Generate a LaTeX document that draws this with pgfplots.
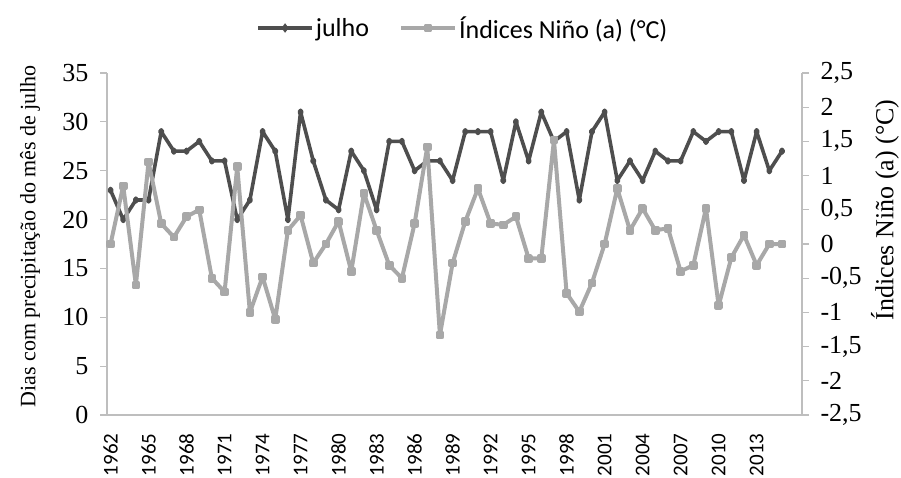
\documentclass[border=0pt]{standalone}
\usepackage{fontspec}
\setmainfont{Liberation Serif}
\newfontfamily\carlito{Carlito}
\usepackage{pgfplots}
\usepackage{pgfplotstable}
\pgfplotsset{compat=1.18}
\definecolor{darkser}{RGB}{78,78,78}
\definecolor{lightser}{RGB}{168,168,168}
\definecolor{axgray}{RGB}{190,190,190}

\pgfplotstableread{
year julho nino
1962 23 0.00
1963 20 0.85
1964 22 -0.60
1965 22 1.20
1966 29 0.30
1967 27 0.10
1968 27 0.40
1969 28 0.50
1970 26 -0.50
1971 26 -0.70
1972 20 1.13
1973 22 -1.00
1974 29 -0.48
1975 27 -1.10
1976 20 0.20
1977 31 0.42
1978 26 -0.28
1979 22 0.00
1980 21 0.33
1981 27 -0.40
1982 25 0.74
1983 21 0.20
1984 28 -0.31
1985 28 -0.50
1986 25 0.30
1987 26 1.42
1988 26 -1.33
1989 24 -0.28
1990 29 0.33
1991 29 0.81
1992 29 0.30
1993 24 0.28
1994 30 0.40
1995 26 -0.21
1996 31 -0.21
1997 28 1.52
1998 29 -0.72
1999 22 -0.99
2000 29 -0.57
2001 31 0.00
2002 24 0.81
2003 26 0.20
2004 24 0.52
2005 27 0.20
2006 26 0.23
2007 26 -0.40
2008 29 -0.31
2009 28 0.52
2010 29 -0.90
2011 29 -0.20
2012 24 0.13
2013 29 -0.31
2014 25 0.00
2015 27 0.00
}\data

\begin{document}
\begin{tikzpicture}
\begin{axis}[
  at={(107pt,62pt)}, anchor=south west,
  width=695pt, height=342pt, scale only axis,
  xmin=1961.72, xmax=2016.58,
  ymin=0, ymax=35,
  axis x line*=bottom, axis y line*=left,
  axis line style={axgray, line width=1.5pt, -},
  ytick={0,5,10,15,20,25,30,35},
  xtick={1962,1965,...,2013},
  tick align=outside,
  major tick length=7pt,
  tick style={axgray, line width=1.2pt},
  xtick style={draw=none},
  xticklabel shift=8pt,
  yticklabel shift=8pt,
  xticklabel style={font=\carlito\fontsize{21}{21}\selectfont, rotate=90, anchor=east, /pgf/number format/1000 sep={}},
  yticklabel style={font=\fontsize{26}{26}\selectfont},
  /pgf/number format/assume math mode=true,
  ylabel={Dias com precipitação do mês de julho},
  ylabel style={font=\fontsize{22}{22}\selectfont, at={(axis description cs:-0.1108,0.523)}, anchor=center},
  clip=false,
]
\addplot[darkser, line width=3.6pt, line join=round, mark=diamond*, mark size=1.8pt] table[x=year,y=julho]{\data};
\end{axis}
\begin{axis}[
  at={(107pt,62pt)}, anchor=south west,
  width=695pt, height=342pt, scale only axis,
  xmin=1961.72, xmax=2016.58,
  ymin=-2.5, ymax=2.5,
  axis x line=none, axis y line*=right,
  axis line style={axgray, line width=1.5pt, -},
  ytick={-2.5,-2,-1.5,-1,-0.5,0,0.5,1,1.5,2,2.5},
  tick align=outside,
  major tick length=7pt,
  tick style={axgray, line width=1.2pt},
  yticklabel shift=8pt,
  yticklabel style={font=\fontsize{26}{26}\selectfont, /pgf/number format/.cd, fixed, precision=1, use comma},
  /pgf/number format/assume math mode=true,
  ylabel={Índices Niño (a) (°C)},
  ylabel style={font=\fontsize{26}{26}\selectfont, at={(axis description cs:1.1194,0.6)}, anchor=center},
  legend style={at={(axis description cs:0.512,1.1316)}, anchor=center, draw=none, fill=none,
     legend columns=2, font=\carlito\fontsize{26}{26}\selectfont,
     /tikz/every even column/.append style={column sep=28pt}},
  legend image code/.code={\draw[mark repeat=2,mark phase=2,#1] plot coordinates {(0pt,0pt) (27pt,0pt) (54pt,0pt)};},
  clip=false,
]
\addlegendimage{darkser, line width=3.6pt, mark=diamond*, mark size=1.8pt}
\addlegendentry{julho}
\addplot[lightser, line width=4pt, line join=round, mark=square*, mark size=2.3pt] table[x=year,y=nino]{\data};
\addlegendentry{Índices Niño (a) (°C)}
\end{axis}
\pgfresetboundingbox
\path[use as bounding box] (0,0) rectangle (901pt,477pt);
\end{tikzpicture}
\end{document}
